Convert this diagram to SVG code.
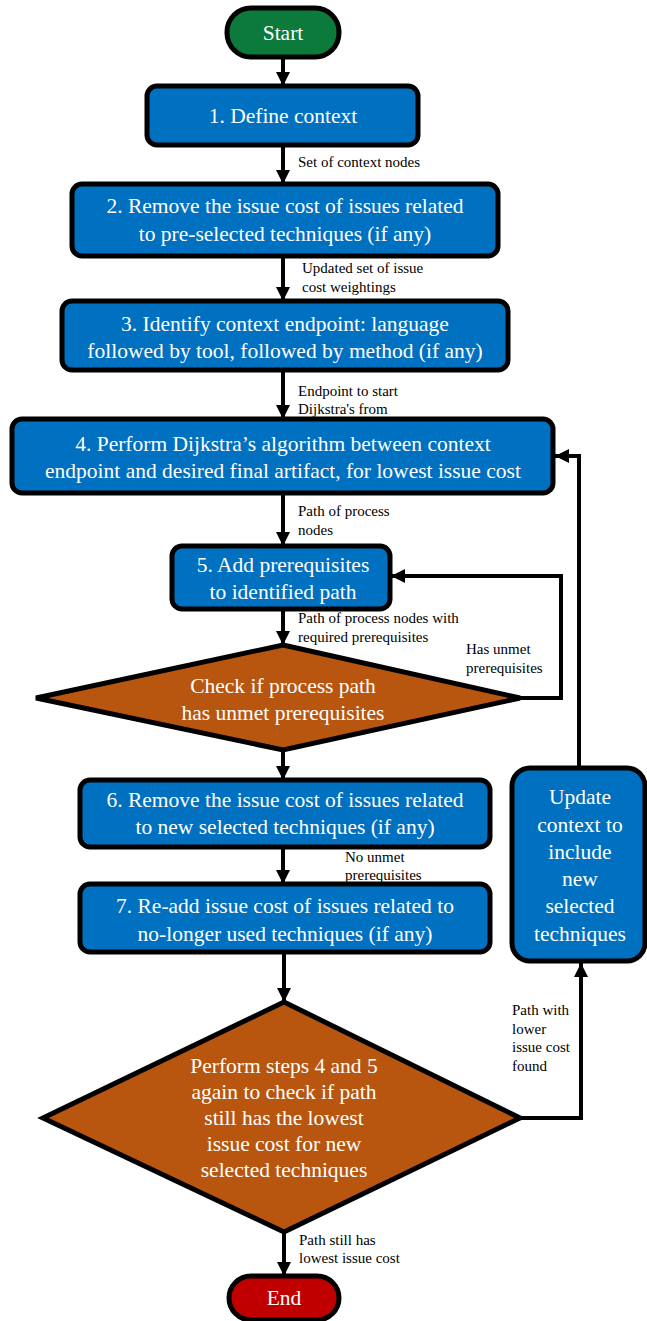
<svg xmlns="http://www.w3.org/2000/svg" width="647" height="1321" viewBox="0 0 647 1321">
<style>
.box{fill:#0070C0;stroke:#000;stroke-width:5}
.dia{fill:#B8560F;stroke:#000;stroke-width:5}
.t{font-family:"Liberation Serif","Times New Roman",serif;font-size:21.5px;fill:#fff;text-anchor:middle}
.lb{font-family:"Liberation Serif","Times New Roman",serif;font-size:15px;fill:#000}
.c{fill:none;stroke:#000;stroke-width:4}
</style>
<defs>
<marker id="ah" markerUnits="userSpaceOnUse" markerWidth="16" markerHeight="16" refX="14" refY="7.5" orient="auto">
<path d="M0,0.5 L14,7.5 L0,14.5 z" fill="#000"/>
</marker>
</defs>
<g id="connectors">
<path class="c" d="M283,57 V86" marker-end="url(#ah)"/>
<path class="c" d="M283,145 V184" marker-end="url(#ah)"/>
<path class="c" d="M283,256 V301" marker-end="url(#ah)"/>
<path class="c" d="M283,370 V419" marker-end="url(#ah)"/>
<path class="c" d="M283,493 V546" marker-end="url(#ah)"/>
<path class="c" d="M283,609 V645" marker-end="url(#ah)"/>
<path class="c" d="M283,750 V780" marker-end="url(#ah)"/>
<path class="c" d="M283,847 V884" marker-end="url(#ah)"/>
<path class="c" d="M284,952 V1002" marker-end="url(#ah)"/>
<path class="c" d="M284,1232 V1276" marker-end="url(#ah)"/>
<path class="c" d="M520,698 H561 V576 H391" marker-end="url(#ah)"/>
<path class="c" d="M520,1118 H581 V963" marker-end="url(#ah)"/>
<path class="c" d="M579,768 V456 H555" marker-end="url(#ah)"/>
<text class="lb" x="298" y="167">Set of context nodes</text>
<text class="lb" x="302" y="273">Updated set of issue</text>
<text class="lb" x="302" y="292">cost weightings</text>
<text class="lb" x="298" y="396">Endpoint to start</text>
<text class="lb" x="298" y="414">Dijkstra's from</text>
<text class="lb" x="298" y="516">Path of process</text>
<text class="lb" x="298" y="535">nodes</text>
<text class="lb" x="298" y="623">Path of process nodes with</text>
<text class="lb" x="298" y="642">required prerequisites</text>
<text class="lb" x="466" y="654">Has unmet</text>
<text class="lb" x="466" y="673">prerequisites</text>
<text class="lb" x="345" y="862">No unmet</text>
<text class="lb" x="345" y="880">prerequisites</text>
<text class="lb" x="512" y="1015">Path with</text>
<text class="lb" x="512" y="1034">lower</text>
<text class="lb" x="512" y="1052">issue cost</text>
<text class="lb" x="512" y="1071">found</text>
<text class="lb" x="299" y="1245">Path still  has</text>
<text class="lb" x="299" y="1263">lowest issue cost</text>
</g>
<g id="start">
<rect x="227" y="8" width="112" height="49" rx="24" fill="#0B7A3A" stroke="#000" stroke-width="5"/>
<text class="t" x="283" y="40">Start</text>
</g>
<g id="n1">
<rect class="box" x="147" y="86" width="271" height="59" rx="10"/>
<text class="t" x="283" y="123">1. Define context</text>
</g>
<g id="n2">
<rect class="box" x="72" y="184" width="426" height="72" rx="10"/>
<text class="t" x="285" y="213">2. Remove the issue cost of issues related</text>
<text class="t" x="285" y="241">to pre-selected  techniques (if any)</text>
</g>
<g id="n3">
<rect class="box" x="62" y="301" width="446" height="69" rx="10"/>
<text class="t" x="285" y="331">3. Identify  context endpoint: language</text>
<text class="t" x="285" y="358">followed by  tool, followed by  method (if any)</text>
</g>
<g id="n4">
<rect class="box" x="12" y="419" width="541" height="74" rx="10"/>
<text class="t" x="283" y="451">4. Perform Dijkstra’s algorithm between  context</text>
<text class="t" x="283" y="478">endpoint and  desired final artifact, for lowest issue cost</text>
</g>
<g id="n5">
<rect class="box" x="172" y="546" width="218" height="63" rx="10"/>
<text class="t" x="283" y="572">5. Add prerequisites</text>
<text class="t" x="283" y="599">to identified path</text>
</g>
<g id="d1">
<polygon class="dia" points="283,645 520,698 283,750 36,698"/>
<text class="t" x="283" y="693">Check if process path</text>
<text class="t" x="283" y="720">has unmet prerequisites</text>
</g>
<g id="n6">
<rect class="box" x="80" y="780" width="410" height="67" rx="10"/>
<text class="t" x="285" y="807">6. Remove the issue cost of issues related</text>
<text class="t" x="285" y="834">to new selected  techniques  (if any)</text>
</g>
<g id="n7">
<rect class="box" x="80" y="884" width="410" height="68" rx="10"/>
<text class="t" x="285" y="913">7. Re-add issue cost of issues related to</text>
<text class="t" x="285" y="941">no-longer used techniques (if any)</text>
</g>
<g id="upd">
<rect class="box" x="512" y="768" width="133" height="193" rx="18"/>
<text class="t" x="580" y="804">Update</text>
<text class="t" x="580" y="832">context to</text>
<text class="t" x="580" y="859">include</text>
<text class="t" x="580" y="886">new</text>
<text class="t" x="580" y="913">selected</text>
<text class="t" x="580" y="941">techniques</text>
</g>
<g id="d2">
<polygon class="dia" points="284,1002 520,1118 284,1232 43,1118"/>
<text class="t" x="284" y="1073">Perform steps 4 and  5</text>
<text class="t" x="284" y="1099">again to check  if path</text>
<text class="t" x="284" y="1125">still has the lowest</text>
<text class="t" x="284" y="1151">issue cost for new</text>
<text class="t" x="284" y="1177">selected  techniques</text>
</g>
<g id="end">
<rect x="229" y="1276" width="110" height="44" rx="22" fill="#C00000" stroke="#000" stroke-width="5"/>
<text class="t" x="284" y="1305">End</text>
</g>
</svg>
